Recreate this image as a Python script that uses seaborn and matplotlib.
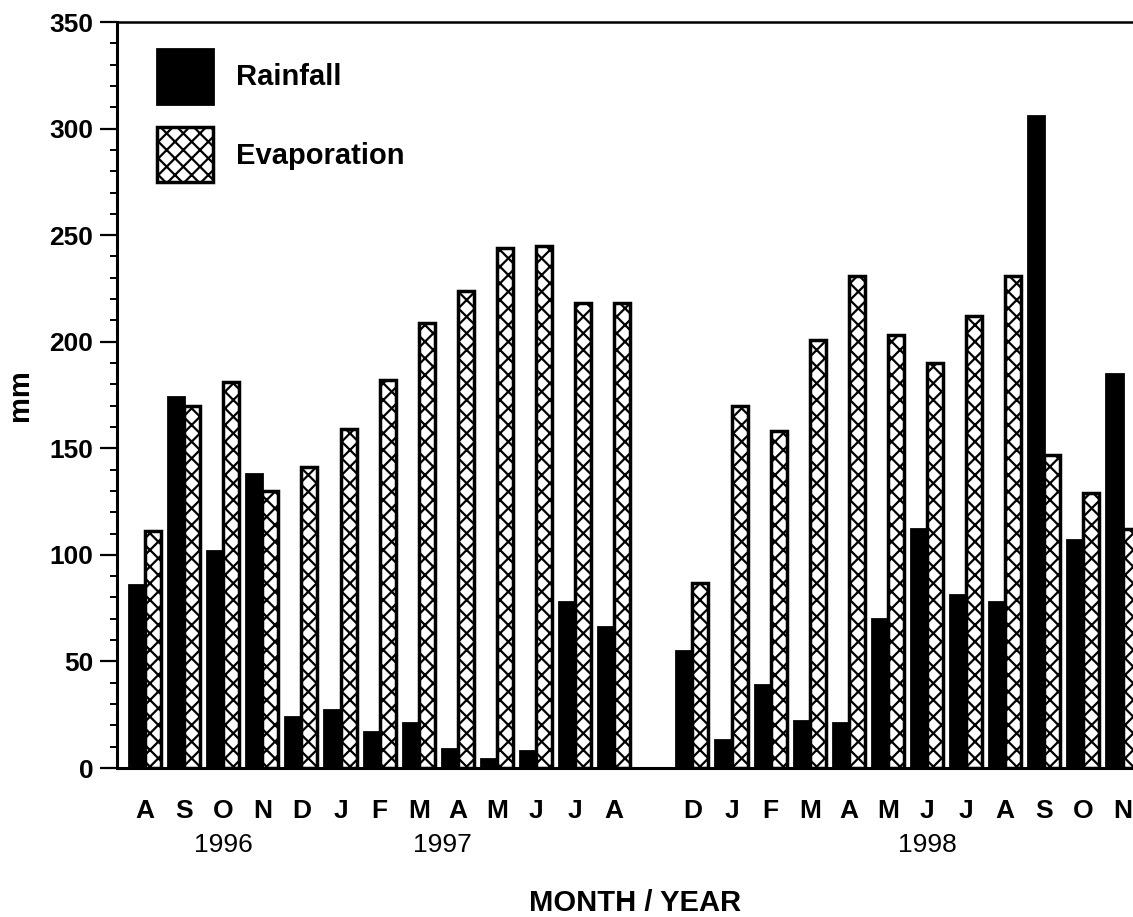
import matplotlib
matplotlib.use("Agg")
import matplotlib.pyplot as plt
import seaborn as sns
import pandas as pd
import numpy as np
from matplotlib.patches import Patch

# ---- data ----
slot_keys = ["A96", "S96", "O96", "N96", "D96", "J97a", "F97", "M97a", "A97a", "M97b", "J97b", "J97c", "A97b",
             "gap",
             "D97", "J98a", "F98", "M98a", "A98a", "M98b", "J98b", "J98c", "A98b", "S98", "O98", "N98"]
tick_labels = ["A", "S", "O", "N", "D", "J", "F", "M", "A", "M", "J", "J", "A",
               "",
               "D", "J", "F", "M", "A", "M", "J", "J", "A", "S", "O", "N"]
data_keys = [k for k in slot_keys if k != "gap"]
rainfall = [86, 174, 102, 138, 24, 27, 17, 21, 9, 4, 8, 78, 66,
            55, 13, 39, 22, 21, 70, 112, 81, 78, 306, 107, 185]
evaporation = [111, 170, 181, 130, 141, 159, 182, 209, 224, 244, 245, 218, 218,
               87, 170, 158, 201, 231, 203, 190, 212, 231, 147, 129, 112]
years = ["1996", "1997", "1998"]
year_pos = [2.0, 7.6, 20.0]

df = pd.DataFrame({
    "slot": data_keys * 2,
    "mm": rainfall + evaporation,
    "series": ["Rainfall"] * len(data_keys) + ["Evaporation"] * len(data_keys),
})

plt.rcParams["font.family"] = ["Liberation Sans", "DejaVu Sans"]
plt.rcParams["hatch.linewidth"] = 1.6
plt.rcParams["hatch.color"] = "black"

W, H = 1133, 917
fig = plt.figure(figsize=(W / 100, H / 100), dpi=100)
fig.patch.set_facecolor("white")

left_px, right_lim_px = 117, 1155
ax = fig.add_axes([left_px / W, 1 - 768 / H, (right_lim_px - left_px) / W, (768 - 22) / H])

sns.barplot(data=df, x="slot", y="mm", hue="series", order=slot_keys,
            hue_order=["Rainfall", "Evaporation"],
            palette={"Rainfall": "black", "Evaporation": "white"},
            edgecolor="black", linewidth=2.0, width=0.82, saturation=1,
            legend=False, ax=ax)

for p in ax.containers[1]:
    p.set_hatch("xx")
    p.set_linewidth(2.5)

slot_w = 39.1
ax.set_xlim(-(145 - left_px) / slot_w, (right_lim_px - 145) / slot_w)
ax.set_ylim(0, 350)
ax.set_yticks(np.arange(0, 351, 50))
ax.set_yticks(np.arange(0, 351, 10), minor=True)
ax.set_xticks(range(len(slot_keys)))
ax.set_xticklabels(tick_labels, fontsize=19, fontweight="bold")
for lab in ax.get_yticklabels():
    lab.set_fontsize(19)
    lab.set_fontweight("bold")
ax.tick_params(axis="x", length=0, pad=22)
ax.tick_params(axis="y", which="major", length=12, width=1.6, direction="out", pad=5)
ax.tick_params(axis="y", which="minor", length=5, width=1.4, direction="out")

for s in ["left", "bottom"]:
    ax.spines[s].set_linewidth(2.2)
ax.spines["top"].set_linewidth(1.8)
ax.spines["right"].set_visible(False)
ax.set_xlabel("")
ax.set_ylabel("")
ax.set_facecolor("white")

fig.text(20 / W, 1 - 395 / H, "mm", rotation=90, fontsize=21, fontweight="bold",
         ha="center", va="center")
fig.text(635 / W, 1 - 903 / H, "MONTH / YEAR", fontsize=21, fontweight="bold",
         ha="center", va="center")

trans = matplotlib.transforms.blended_transform_factory(ax.transData, fig.transFigure)
for yr, xp in zip(years, year_pos):
    ax.text(xp, 1 - 845 / H, yr, transform=trans, fontsize=19, ha="center", va="center",
            clip_on=False)

handles = [Patch(facecolor="black", edgecolor="black", linewidth=2),
           Patch(facecolor="white", edgecolor="black", hatch="xx", linewidth=2.5)]
ax.legend(handles, ["Rainfall", "Evaporation"], loc="upper left",
          bbox_to_anchor=(157 / W, 1 - 49 / H), bbox_transform=fig.transFigure,
          frameon=False, borderpad=0, borderaxespad=0, handlelength=1.92, handleheight=2.52,
          handletextpad=0.8, labelspacing=0.8,
          prop={"size": 21, "weight": "bold", "family": ["Liberation Sans", "DejaVu Sans"]})

fig.savefig("out.png", dpi=100, facecolor="white")
